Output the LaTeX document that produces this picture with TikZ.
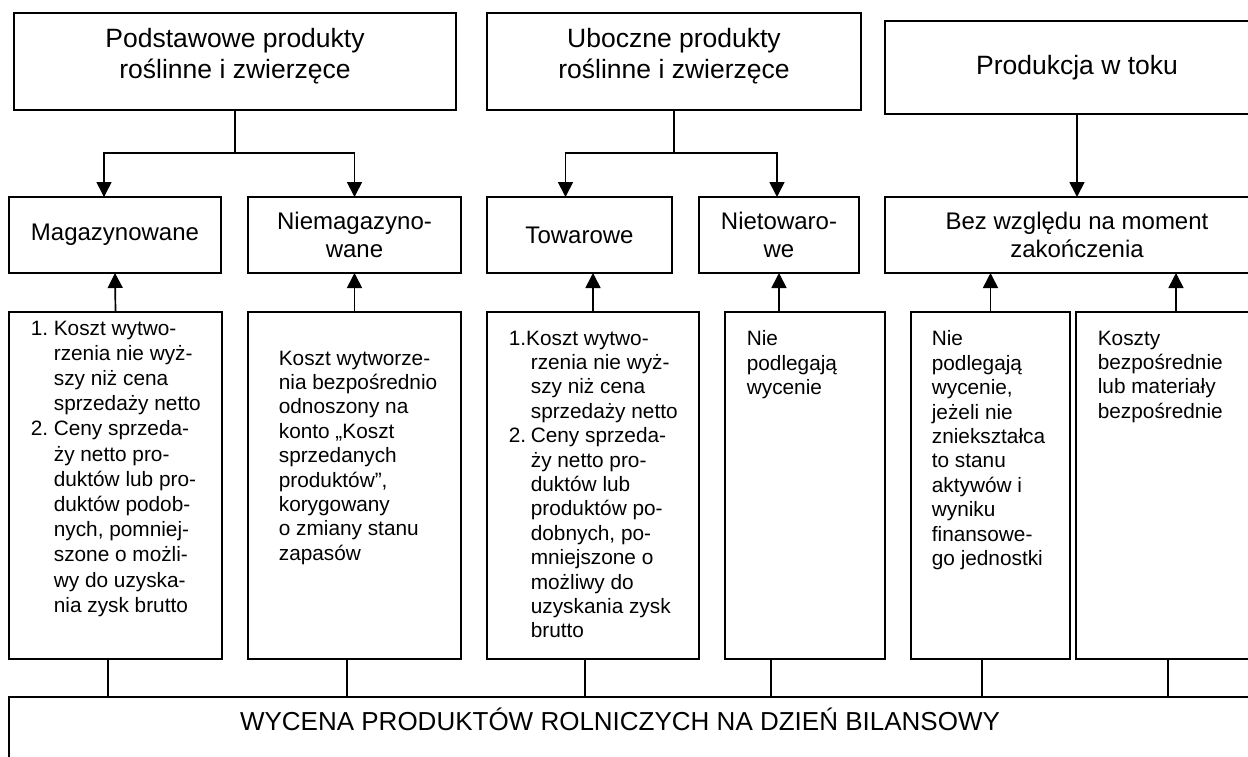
\documentclass[tikz,border=0pt]{standalone}
\usepackage{fontspec}
\setmainfont{Liberation Sans}
\usepackage{tikz}
\usetikzlibrary{positioning, arrows.meta, calc}
\tikzset{
>={Triangle[length=15pt,width=15pt]}, % filled arrow heads
box/.style={draw, rectangle, inner sep=0pt, outer sep=0pt, align=center}, % every frame
toptxt/.style={inner sep=0pt, align=center, font=\txttop, anchor=north}, % titles of the top row
lowtxt/.style={inner sep=0pt, align=left, font=\txtlow, anchor=north west}, % rules in the lower row
}
\newcommand{\txttop}{\fontsize{26.5}{31}\selectfont}
\newcommand{\txtmid}{\fontsize{24}{28}\selectfont}
\newcommand{\txtlow}{\fontsize{20.8}{24.4}\selectfont}
\newcommand{\txtwyc}{\fontsize{26}{30}\selectfont}
\newcommand{\listlead}[2]{\makebox[#1][l]{#2}}
\begin{document}
\begin{tikzpicture}[x=1pt, y=-1pt, line width=1.7pt]
\clip (0,0) rectangle (1248,756);
\fill[white] (0,0) rectangle (1248,756);

% top row
\node[box, minimum width=442pt, minimum height=97pt] (pod) at (235,61.5) {};
\node[toptxt, below=14pt of pod.north] (podtxt) {Podstawowe produkty\\roślinne i zwierzęce};
\node[box, minimum width=374pt, minimum height=97pt] (ubo) at (674,61.5) {};
\node[toptxt, below=14pt of ubo.north] (ubotxt) {Uboczne produkty\\roślinne i zwierzęce};
\node[box, minimum width=384pt, minimum height=93pt, font=\txttop] (prod) at (1077,67.5) {Produkcja w toku};

% middle row
\node[box, minimum width=212pt, minimum height=76pt, font=\txtmid] (mag) at (115,235) {Magazynowane};
\node[box, minimum width=213pt, minimum height=76pt, font=\txtmid] (niemag) at (354.5,235) {Niemagazyno-\\wane};
\node[box, minimum width=185pt, minimum height=76pt, font=\txtmid] (tow) at (579.5,235) {Towarowe};
\node[box, minimum width=160pt, minimum height=76pt, font=\txtmid] (nietow) at (779,235) {Nietowaro-\\we};
\node[box, minimum width=384pt, minimum height=76pt, font=\txtmid] (bez) at (1077,235) {Bez względu na moment\\zakończenia};

% lower row
\node[box, minimum width=213pt, minimum height=347pt] (a) at (115.5,485.5) {};
\node[box, minimum width=213pt, minimum height=347pt] (b) at (354.5,485.5) {};
\node[box, minimum width=212pt, minimum height=347pt] (c) at (593,485.5) {};
\node[box, minimum width=160pt, minimum height=347pt] (d) at (805,485.5) {};
\node[box, minimum width=159pt, minimum height=347pt] (e) at (990.5,485.5) {};
\node[box, minimum width=200pt, minimum height=347pt] (f) at (1176,485.5) {};

\node[lowtxt, font=\fontsize{20.8}{25.2}\selectfont, below right=8pt and 21pt of a.north west] (atxt) {%
\listlead{23pt}{1.}Koszt wytwo-\\ \listlead{23pt}{}rzenia nie wyż-\\ \listlead{23pt}{}szy niż cena\\
\listlead{23pt}{}sprzedaży netto\\ \listlead{23pt}{2.}Ceny sprzeda-\\ \listlead{23pt}{}ży netto pro-\\
\listlead{23pt}{}duktów lub pro-\\ \listlead{23pt}{}duktów podob-\\ \listlead{23pt}{}nych, pomniej-\\
\listlead{23pt}{}szone o możli-\\ \listlead{23pt}{}wy do uzyska-\\ \listlead{23pt}{}nia zysk brutto};
\node[lowtxt, below right=38pt and 30pt of b.north west] (btxt) {Koszt wytworze-\\nia bezpośrednio\\odnoszony na\\konto „Koszt\\sprzedanych\\produktów”,\\korygowany\\o zmiany stanu\\zapasów};
\node[lowtxt, below right=18pt and 21pt of c.north west] (ctxt) {%
1.Koszt wytwo-\\ \listlead{22pt}{}rzenia nie wyż-\\ \listlead{22pt}{}szy niż cena\\
\listlead{22pt}{}sprzedaży netto\\ \listlead{22pt}{2.}Ceny sprzeda-\\ \listlead{22pt}{}ży netto pro-\\
\listlead{22pt}{}duktów lub\\ \listlead{22pt}{}produktów po-\\ \listlead{22pt}{}dobnych, po-\\
\listlead{22pt}{}mniejszone o\\ \listlead{22pt}{}możliwy do\\ \listlead{22pt}{}uzyskania zysk\\ \listlead{22pt}{}brutto};
\node[lowtxt, below right=18pt and 21pt of d.north west] (dtxt) {Nie\\podlegają\\wycenie};
\node[lowtxt, below right=18pt and 20pt of e.north west] (etxt) {Nie\\podlegają\\wycenie,\\jeżeli nie\\zniekształca\\to stanu\\aktywów i\\wyniku\\finansowe-\\go jednostki};
\node[lowtxt, below right=18pt and 21pt of f.north west] (ftxt) {Koszty\\bezpośrednie\\lub materiały\\bezpośrednie};

% bottom frame
\node[box, minimum width=1251pt, minimum height=103pt] (wyc) at (634.5,748.5) {};
\node[font=\txtwyc, inner sep=0pt, anchor=base] (wyctxt) at (620,730) {WYCENA PRODUKTÓW ROLNICZYCH NA DZIEŃ BILANSOWY};

% edges
\draw (pod.south) -- ++(0,43) coordinate (podfork); % pod to fork
\draw[->] (podfork) -| ([xshift=-11pt]mag.north); % fork to mag
\draw[->] (podfork) -| (niemag.north); % fork to niemag
\draw (ubo.south) -- ++(0,43) coordinate (ubofork); % ubo to fork
\draw[->] (ubofork) -| ([xshift=-14pt]tow.north); % fork to tow
\draw[->] (ubofork) -| ([xshift=-2pt]nietow.north); % fork to nietow
\draw[->] (prod.south) -- (bez.north); % prod to bez

\draw[->] (a.north) -- (mag.south); % a to mag
\draw[->] (b.north) -- (niemag.south); % b to niemag
\draw[->] (c.north) -- (c.north |- tow.south); % c to tow
\draw[->] (nietow.south |- d.north) -- (nietow.south); % d to nietow
\draw[->] (e.north) -- (e.north |- bez.south); % e to bez
\draw[->] (f.north) -- (f.north |- bez.south); % f to bez

\draw ($(a.south)+(-7.5,0)$) -- ($(a.south |- wyc.north)+(-7.5,0)$); % a to wyc
\draw ($(b.south)+(-7.5,0)$) -- ($(b.south |- wyc.north)+(-7.5,0)$); % b to wyc
\draw ($(c.south)+(-8,0)$) -- ($(c.south |- wyc.north)+(-8,0)$); % c to wyc
\draw ($(nietow.south |- d.south)+(-8,0)$) -- ($(nietow.south |- wyc.north)+(-8,0)$); % d to wyc
\draw ($(e.south)+(-8.5,0)$) -- ($(e.south |- wyc.north)+(-8.5,0)$); % e to wyc
\draw ($(f.south)+(-8,0)$) -- ($(f.south |- wyc.north)+(-8,0)$); % f to wyc
\end{tikzpicture}
\end{document}
